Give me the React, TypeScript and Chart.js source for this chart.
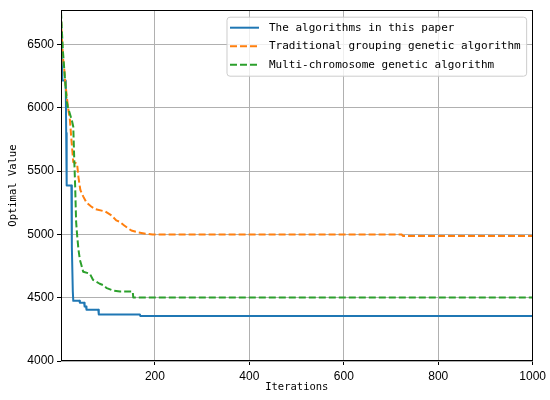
import React, { useEffect, useRef } from 'react';
import { Chart, registerables } from 'chart.js';

Chart.register(...registerables);

const xTicks = [200, 400, 600, 800, 1000];
const yTicks = [4000, 4500, 5000, 5500, 6000, 6500];

const seriesNames = [
  'The algorithms in this paper',
  'Traditional grouping genetic algorithm',
  'Multi-chromosome genetic algorithm',
];
const seriesColors = ['#1f77b4', '#ff7f0e', '#2ca02c'];

const proposedIter = [1, 2, 4, 11, 12, 13, 23, 24, 26, 27, 40, 41, 50, 51, 54, 55, 80, 81, 168, 169, 1000];
const proposedValue = [6600, 6450, 6215, 6215, 5800, 5385, 5385, 4900, 4550, 4475, 4475, 4460, 4460, 4430, 4430, 4405, 4405, 4368, 4368, 4356, 4356];

const traditionalIter = [1, 3, 5, 8, 10, 13, 16, 20, 23, 27, 35, 38, 42, 48, 55, 65, 73, 95, 108, 118, 125, 135, 150, 165, 180, 195, 723, 725, 1000];
const traditionalValue = [6700, 6550, 6400, 6300, 6200, 6100, 6000, 5900, 5750, 5570, 5560, 5450, 5350, 5300, 5250, 5220, 5200, 5180, 5150, 5110, 5100, 5070, 5030, 5015, 5005, 4998, 4998, 4988, 4988];

const multiIter = [1, 3, 5, 8, 11, 13, 16, 20, 24, 27, 29, 31, 33, 35, 38, 41, 44, 48, 62, 69, 83, 90, 98, 112, 126, 153, 154, 1000];
const multiValue = [6760, 6600, 6450, 6300, 6150, 6050, 6000, 5950, 5900, 5850, 5600, 5380, 5100, 5000, 4880, 4800, 4760, 4705, 4690, 4640, 4610, 4600, 4575, 4555, 4548, 4548, 4502, 4502];

const toPoints = (xs: number[], ys: number[]) => xs.map((x, i) => ({ x, y: ys[i] }));

const legendFont = '11px "DejaVu Sans Mono"';

const framePlugin = {
  id: 'frameAndLegend',
  afterDraw(chart: any) {
    const { ctx, chartArea: a } = chart;
    ctx.save();
    // frame
    ctx.strokeStyle = '#000';
    ctx.lineWidth = 1;
    ctx.strokeRect(Math.round(a.left) + 0.5, Math.round(a.top) + 0.5, Math.round(a.right - a.left) - 1, Math.round(a.bottom - a.top) - 1);

    // legend
    ctx.font = legendFont;
    let maxW = 0;
    seriesNames.forEach((n) => { maxW = Math.max(maxW, ctx.measureText(n).width); });
    const padL = 3, lineLen = 29, gap = 10, padR = 6;
    const w = padL + lineLen + gap + maxW + padR;
    const h = 59;
    const right = a.right - 6;
    const left = right - w;
    const top = a.top + 7;
    const r = 3;
    ctx.beginPath();
    ctx.moveTo(left + r, top);
    ctx.lineTo(left + w - r, top);
    ctx.quadraticCurveTo(left + w, top, left + w, top + r);
    ctx.lineTo(left + w, top + h - r);
    ctx.quadraticCurveTo(left + w, top + h, left + w - r, top + h);
    ctx.lineTo(left + r, top + h);
    ctx.quadraticCurveTo(left, top + h, left, top + h - r);
    ctx.lineTo(left, top + r);
    ctx.quadraticCurveTo(left, top, left + r, top);
    ctx.closePath();
    ctx.fillStyle = 'rgba(255,255,255,0.8)';
    ctx.fill();
    ctx.strokeStyle = '#cccccc';
    ctx.lineWidth = 1;
    ctx.stroke();

    seriesNames.forEach((name, i) => {
      const cy = top + 10.5 + i * 18.5;
      ctx.beginPath();
      ctx.strokeStyle = seriesColors[i];
      ctx.lineWidth = 2;
      ctx.setLineDash(i === 0 ? [] : [7, 3]);
      ctx.moveTo(left + padL, cy);
      ctx.lineTo(left + padL + lineLen, cy);
      ctx.stroke();
      ctx.setLineDash([]);
      ctx.fillStyle = '#000';
      ctx.textBaseline = 'middle';
      ctx.textAlign = 'left';
      ctx.fillText(name, left + padL + lineLen + gap, cy);
    });
    ctx.restore();
  },
};

export default function App() {
  const ref = useRef<HTMLCanvasElement>(null);
  useEffect(() => {
    document.body.style.margin = '0';
    if (!ref.current) return;
    const tickFont = { family: '"Liberation Sans"', size: 12 };
    const titleFont = { family: '"DejaVu Sans Mono"', size: 10.5 };
    const lineCommon = {
      borderWidth: 2,
      pointRadius: 0,
      fill: false,
      tension: 0,
      borderJoinStyle: 'round' as const,
      borderCapStyle: 'butt' as const,
    };
    const chart = new Chart(ref.current, {
      type: 'line',
      data: {
        datasets: [
          {
            ...lineCommon,
            label: seriesNames[0],
            data: toPoints(proposedIter, proposedValue),
            borderColor: seriesColors[0],
            order: 2,
          },
          {
            ...lineCommon,
            label: seriesNames[1],
            data: toPoints(traditionalIter, traditionalValue),
            borderColor: seriesColors[1],
            borderDash: [7, 3],
            order: 1,
          },
          {
            ...lineCommon,
            label: seriesNames[2],
            data: toPoints(multiIter, multiValue),
            borderColor: seriesColors[2],
            borderDash: [7, 3],
            order: 0,
          },
        ],
      },
      options: {
        animation: false,
        responsive: false,
        events: [],
        layout: { padding: { top: 6, right: 16, left: 0, bottom: 0 } },
        plugins: { legend: { display: false }, tooltip: { enabled: false } },
        scales: {
          x: {
            type: 'linear',
            min: 1,
            max: 1000,
            afterBuildTicks: (s: any) => { s.ticks = xTicks.map((v) => ({ value: v })); },
            afterFit: (s: any) => { s.height = 39; },
            grid: { color: '#b0b0b0', tickColor: '#000', tickLength: 4, lineWidth: 1 },
            border: { display: false },
            ticks: { color: '#000', font: tickFont, padding: 4, maxRotation: 0, autoSkip: false, callback: (v: any) => String(v) },
            title: { display: true, text: 'Iterations', color: '#000', font: titleFont, padding: { top: 0, bottom: 6 } },
          },
          y: {
            type: 'linear',
            min: 4000,
            max: 6770,
            afterBuildTicks: (s: any) => { s.ticks = yTicks.map((v) => ({ value: v })); },
            afterFit: (s: any) => { s.width = 61; },
            grid: { color: '#b0b0b0', tickColor: '#000', tickLength: 4, lineWidth: 1 },
            border: { display: false },
            ticks: { color: '#000', font: tickFont, padding: 3, autoSkip: false, callback: (v: any) => String(v) },
            title: { display: true, text: 'Optimal Value', color: '#000', font: titleFont, padding: { top: 7, bottom: 0 } },
          },
        },
      },
      plugins: [framePlugin],
    });
    return () => chart.destroy();
  }, []);
  return (
    <div style={{ width: 550, height: 400 }}>
      <canvas ref={ref} width={550} height={400} style={{ display: 'block' }} />
    </div>
  );
}
